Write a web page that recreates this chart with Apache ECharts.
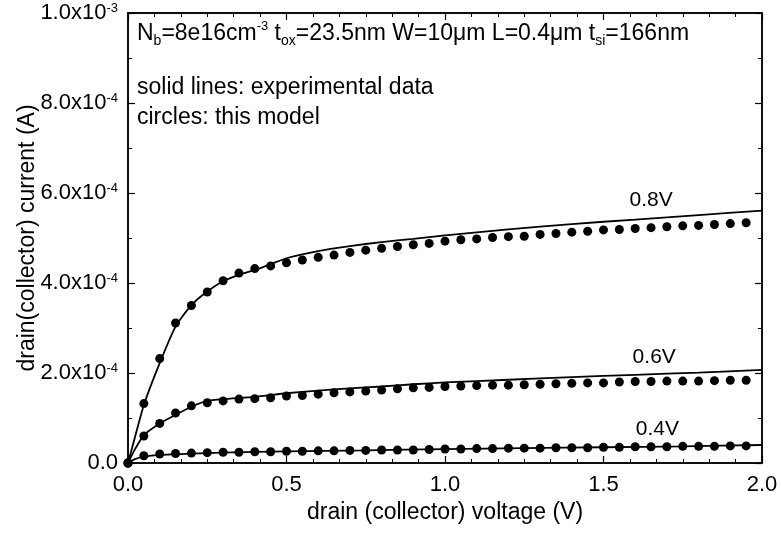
<!DOCTYPE html>
<html>
<head>
<meta charset="utf-8">
<script src="https://cdn.jsdelivr.net/npm/echarts@6/dist/echarts.min.js"></script>
<style>
  html, body { margin: 0; padding: 0; background: #fff; }
  #chart { width: 781px; height: 534px; }
  #dbg { position: absolute; left: 300px; top: 280px; width: 460px; font: 10px monospace; color: red; white-space: pre-wrap; }
</style>
</head>
<body>
<div id="chart"></div>
<div id="dbg"></div>
<script>
// currents are in units of 1e-4 A
var xTickLabels = ['0.0', '0.5', '1.0', '1.5', '2.0'];
var yTickMantissa = ['0.0', '2.0', '4.0', '6.0', '8.0', '1.0'];
var yTickExp = ['', '-4', '-4', '-4', '-4', '-3'];

// model (circles), sampled every 0.05 V
var modelV = [0.00, 0.05, 0.10, 0.15, 0.20, 0.25, 0.30, 0.35, 0.40, 0.45,
              0.50, 0.55, 0.60, 0.65, 0.70, 0.75, 0.80, 0.85, 0.90, 0.95,
              1.00, 1.05, 1.10, 1.15, 1.20, 1.25, 1.30, 1.35, 1.40, 1.45,
              1.50, 1.55, 1.60, 1.65, 1.70, 1.75, 1.80, 1.85, 1.90, 1.95];
var model08 = [0.00, 1.32, 2.32, 3.11, 3.50, 3.80, 4.05, 4.22, 4.32, 4.38,
               4.45, 4.51, 4.57, 4.62, 4.68, 4.73, 4.77, 4.81, 4.85, 4.88,
               4.93, 4.96, 4.98, 5.01, 5.03, 5.04, 5.08, 5.10, 5.13, 5.15,
               5.18, 5.19, 5.21, 5.23, 5.25, 5.27, 5.28, 5.30, 5.32, 5.34];
var model06 = [0.00, 0.60, 0.88, 1.11, 1.27, 1.34, 1.38, 1.42, 1.43, 1.45,
               1.49, 1.50, 1.53, 1.56, 1.58, 1.60, 1.62, 1.65, 1.67, 1.68,
               1.70, 1.71, 1.72, 1.73, 1.73, 1.74, 1.75, 1.76, 1.77, 1.78,
               1.78, 1.80, 1.81, 1.81, 1.82, 1.82, 1.82, 1.83, 1.84, 1.84];
var model04 = [0.00, 0.16, 0.20, 0.21, 0.22, 0.23, 0.24, 0.24, 0.25, 0.25,
               0.26, 0.26, 0.27, 0.27, 0.28, 0.28, 0.29, 0.29, 0.29, 0.30,
               0.31, 0.31, 0.32, 0.32, 0.33, 0.33, 0.33, 0.34, 0.34, 0.34,
               0.35, 0.35, 0.36, 0.36, 0.36, 0.37, 0.37, 0.37, 0.38, 0.38];

// experimental data (solid lines)
var exp08V = [0, 0.02, 0.05, 0.10, 0.15, 0.20, 0.25, 0.30, 0.35, 0.40, 0.45, 0.50, 0.60, 0.70, 0.80, 0.90, 1.00, 1.20, 1.40, 1.60, 1.80, 2.00];
var exp08  = [0, 0.52, 1.29, 2.22, 3.03, 3.51, 3.81, 4.04, 4.18, 4.29, 4.42, 4.55, 4.71, 4.82, 4.91, 4.98, 5.06, 5.19, 5.31, 5.41, 5.51, 5.61];
var exp06V = [0, 0.02, 0.05, 0.10, 0.15, 0.20, 0.25, 0.30, 0.40, 0.50, 0.60, 0.70, 0.80, 0.90, 1.00, 1.20, 1.40, 1.60, 1.80, 2.00];
var exp06  = [0, 0.28, 0.62, 0.88, 1.07, 1.25, 1.38, 1.42, 1.47, 1.55, 1.61, 1.66, 1.70, 1.75, 1.79, 1.85, 1.91, 1.96, 2.01, 2.07];
var exp04V = [0, 0.02, 0.05, 0.10, 0.20, 0.30, 0.50, 0.75, 1.00, 1.25, 1.50, 1.75, 2.00];
var exp04  = [0, 0.08, 0.14, 0.18, 0.21, 0.23, 0.26, 0.28, 0.31, 0.33, 0.35, 0.37, 0.40];

var curveLabels = [[1.65, 5.84, '0.8V'], [1.66, 2.36, '0.6V'], [1.67, 0.76, '0.4V']];

function pairs(xs, ys) {
  return xs.map(function (x, i) { return [x, ys[i]]; });
}

// every axis gets its own fresh option objects
function makeAxis(min, max, interval, position, minorSplit, extra) {
  var axis = {
    type: 'value',
    min: min, max: max, interval: interval, position: position,
    axisLine: { show: true, onZero: false, lineStyle: { color: '#000', width: 1.5 } },
    axisTick: { show: true, inside: true, length: 7, lineStyle: { color: '#000', width: 1.2 } },
    minorTick: { show: true, splitNumber: minorSplit, length: 4, lineStyle: { color: '#000', width: 1 } },
    splitLine: { show: false },
    axisLabel: { show: false }
  };
  for (var k in extra) axis[k] = extra[k];
  return axis;
}

var dbg = document.getElementById('dbg');
var chart = echarts.init(document.getElementById('chart'));
var failMsg = '';

try {
chart.setOption({
  animation: false,
  grid: [
    { left: 128, right: 19, top: 13, bottom: 71 },
    // second grid on the same rectangle only carries the mirrored top/right axes
    { left: 128, right: 19, top: 13, bottom: 71, show: true, borderColor: '#000', borderWidth: 1.5 }
  ],
  xAxis: [
    makeAxis(0, 2, 0.5, 'bottom', 6, {
      gridIndex: 0,
      axisLabel: {
        margin: 11, fontSize: 22, color: '#000', fontFamily: 'Liberation Sans',
        formatter: function (v, i) { return xTickLabels[i] || ''; }
      },
      name: 'drain (collector) voltage (V)', nameLocation: 'middle', nameGap: 36,
      nameTextStyle: { fontSize: 23, color: '#000', fontFamily: 'Liberation Sans' }
    }),
    makeAxis(0, 2, 0.5, 'top', 6, { gridIndex: 1 })
  ],
  yAxis: [
    makeAxis(0, 10, 2, 'left', 2, {
      gridIndex: 0,
      axisLabel: {
        margin: 10, color: '#000',
        rich: {
          b: { fontSize: 22, color: '#000', fontFamily: 'Liberation Sans' },
          s: { fontSize: 13, color: '#000', fontFamily: 'Liberation Sans', verticalAlign: 'top', lineHeight: 8 }
        },
        formatter: function (v, i) {
          if (!yTickExp[i]) return '{b|' + (yTickMantissa[i] || '') + '}';
          return '{b|' + yTickMantissa[i] + 'x10}{s|' + yTickExp[i] + '}';
        }
      },
      name: 'drain(collector) current (A)', nameLocation: 'middle', nameGap: 89, nameMoveOverlap: false,
      nameTextStyle: { fontSize: 23, color: '#000', fontFamily: 'Liberation Sans' }
    }),
    makeAxis(0, 10, 2, 'right', 2, { gridIndex: 1 })
  ],
  series: [
    { type: 'line', data: pairs(exp08V, exp08), showSymbol: false, smooth: 0.2, lineStyle: { color: '#000', width: 1.8 } },
    { type: 'line', data: pairs(exp06V, exp06), showSymbol: false, smooth: 0.2, lineStyle: { color: '#000', width: 1.8 } },
    { type: 'line', data: pairs(exp04V, exp04), showSymbol: false, smooth: 0.2, lineStyle: { color: '#000', width: 1.8 } },
    { type: 'scatter', data: pairs(modelV, model08), symbolSize: 9, itemStyle: { color: '#000', opacity: 1 } },
    { type: 'scatter', data: pairs(modelV, model06), symbolSize: 9, itemStyle: { color: '#000', opacity: 1 } },
    { type: 'scatter', data: pairs(modelV, model04), symbolSize: 9, itemStyle: { color: '#000', opacity: 1 } },
    {
      type: 'scatter', data: curveLabels, symbolSize: 1, itemStyle: { color: 'rgba(0,0,0,0)', opacity: 1 },
      label: {
        show: true, position: 'inside', fontSize: 21, color: '#000', fontFamily: 'Liberation Sans',
        formatter: function (p) { return p.value[2]; }
      }
    }
  ],
  graphic: [
    {
      type: 'text', x: 137, y: 34,
      style: {
        text: 'N{sub|b}=8e16cm{sup|-3} t{sub|ox}=23.5nm W=10μm L=0.4μm t{sub|si}=166nm',
        fontSize: 23, fontFamily: 'Liberation Sans', fill: '#000', lineHeight: 28,
        verticalAlign: 'middle', align: 'left',
        rich: {
          sub: { fontSize: 14, fontFamily: 'Liberation Sans', verticalAlign: 'bottom', lineHeight: 14, fill: '#000' },
          sup: { fontSize: 13, fontFamily: 'Liberation Sans', verticalAlign: 'top', lineHeight: 8, fill: '#000' }
        }
      }
    },
    {
      type: 'text', x: 137, y: 88,
      style: { text: 'solid lines: experimental data', fontSize: 23, fontFamily: 'Liberation Sans', fill: '#000', verticalAlign: 'middle', align: 'left' }
    },
    {
      type: 'text', x: 137, y: 118,
      style: { text: 'circles: this model', fontSize: 23, fontFamily: 'Liberation Sans', fill: '#000', verticalAlign: 'middle', align: 'left' }
    }
  ]
});
} catch (e) { failMsg = 'THROW ' + e.message; }

// diagnostics only appear if the top frame line is missing
try {
  var list = chart.getZr().storage.getDisplayList(true);
  var topFound = false, big = [], rightCount = 0;
  list.forEach(function (el) {
    var r = el.getPaintRect ? el.getPaintRect() : el.getBoundingRect();
    if (r.y < 20 && r.height < 8 && r.width > 500) topFound = true;
    if (r.x > 752 && r.x < 770) rightCount++;
    if (r.width * r.height > 40000) {
      big.push(el.type + ' f=' + (el.style && el.style.fill) + ' s=' + (el.style && el.style.stroke) + ' ' +
        Math.round(r.x) + ',' + Math.round(r.y) + ' ' + Math.round(r.width) + 'x' + Math.round(r.height) +
        ' z' + el.z + '/' + el.z2 + ' inv=' + el.invisible + ' op=' + (el.style && el.style.opacity));
    }
  });
  if (!topFound || failMsg) {
    dbg.textContent = failMsg + '\nn=' + list.length + ' right=' + rightCount + '\n' + big.join('\n');
  }
} catch (e) { dbg.textContent = 'DBG ' + e.message; }
</script>
</body>
</html>
